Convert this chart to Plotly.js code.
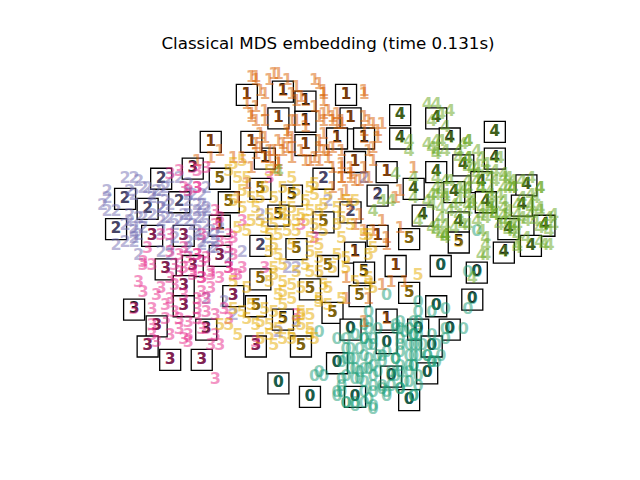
<!DOCTYPE html>
<html>
<head>
<meta charset="utf-8">
<script src="https://cdn.plot.ly/plotly-3.0.1.min.js"></script>
<style>
  body { margin: 0; background: #ffffff; }
  #embedding { width: 640px; height: 480px; }
</style>
</head>
<body>
<div id="embedding"></div>
<script>
// digits 0-5, positions in the embedding (scaled to [0, 1])
var x0 = [0.63,0.59,0.61,0.65,0.66,0.69,0.58,0.60,0.62,0.58,0.54,0.55,0.53,0.56,0.58,0.60,0.60,0.57,0.54,0.53,0.52,0.54,0.56,0.58,0.60,0.58,0.60,0.62,0.63,0.66,0.67,0.66,0.68,0.69,0.66,0.65,0.63,0.47,0.48,0.49,0.48,0.52,0.54,0.70,0.70,0.73,0.76,0.81,0.80,0.76,0.76,0.74,0.75,0.73,0.74,0.72,0.70,0.68,0.69,0.68,0.70,0.68,0.70,0.69,0.69,0.68,0.81,0.83,
  0.70,0.69,0.67,0.66,0.66,0.68,0.69,0.70,0.71,0.72,0.73,0.69,0.66,0.65,0.64,0.63,0.66,0.69,0.59,0.58,0.60,0.59,0.57,0.61,0.59,0.56,0.55,0.54,0.55,0.57,0.59,0.61,0.56,0.53,0.58,0.60,0.53,0.52,0.54,0.56,0.59,0.60,0.62,0.64,0.65,0.62,0.58,0.56,0.59,0.65,0.66,0.70,0.73];
var y0 = [0.34,0.29,0.24,0.24,0.24,0.22,0.21,0.19,0.16,0.16,0.18,0.15,0.14,0.12,0.12,0.13,0.10,0.09,0.10,0.07,0.05,0.02,0.01,0.02,0.00,0.05,0.05,0.07,0.05,0.06,0.08,0.11,0.13,0.16,0.17,0.15,0.17,0.10,0.11,0.10,0.23,0.21,0.21,0.32,0.29,0.29,0.30,0.30,0.24,0.24,0.21,0.19,0.16,0.14,0.14,0.16,0.19,0.19,0.13,0.11,0.10,0.08,0.07,0.04,0.26,0.24,0.41,0.53,
  0.26,0.22,0.23,0.21,0.19,0.16,0.19,0.16,0.19,0.16,0.14,0.13,0.13,0.10,0.07,0.04,0.06,0.04,0.24,0.21,0.21,0.19,0.18,0.16,0.15,0.15,0.18,0.15,0.12,0.11,0.12,0.11,0.09,0.09,0.08,0.07,0.05,0.04,0.02,0.02,0.03,0.01,0.06,0.11,0.15,0.14,0.25,0.22,0.26,0.25,0.26,0.22,0.22];

var x1 = [0.38,0.34,0.37,0.41,0.47,0.49,0.43,0.36,0.43,0.49,0.34,0.49,0.51,0.58,0.47,0.52,0.53,0.59,0.62,0.61,0.60,0.50,0.48,0.41,0.40,0.38,0.35,0.47,0.45,0.53,0.53,0.55,0.56,0.58,0.54,0.51,0.55,0.53,0.65,0.66,0.57,0.56,0.58,0.60,0.63,0.66,0.39,0.42,0.41,0.42,0.34,0.34,0.37,0.58,0.29,0.31,0.26,0.32,0.30,0.67,0.69,0.63,0.54,0.62,0.54,0.59,0.58,0.64,0.62,0.33,0.33,0.21,0.24,
  0.34,0.39,0.35,0.42,0.44,0.48,0.49,0.50,0.48,0.49,0.51,0.52,0.53,0.58,0.58,0.58,0.60,0.61,0.59,0.60,0.53,0.51,0.49,0.48,0.49,0.45,0.43,0.42,0.41,0.39,0.40,0.42,0.44,0.46,0.48,0.50,0.51,0.53,0.55,0.53,0.55,0.57,0.59,0.36,0.36,0.33,0.32,0.36,0.35,0.37,0.39,0.38,0.34,0.33,0.39];
var y1 = [1.00,0.98,0.98,0.98,0.98,0.95,0.96,0.94,0.92,0.92,0.90,0.88,0.87,0.94,0.90,0.85,0.86,0.86,0.85,0.83,0.78,0.77,0.78,0.82,0.79,0.77,0.82,0.75,0.74,0.72,0.69,0.70,0.68,0.69,0.65,0.66,0.61,0.64,0.63,0.65,0.58,0.55,0.53,0.53,0.51,0.54,0.73,0.78,0.83,0.86,0.86,0.79,0.75,0.72,0.75,0.75,0.77,0.67,0.63,0.38,0.72,0.49,0.39,0.37,0.33,0.33,0.26,0.38,0.56,0.88,0.99,0.74,0.75,
  0.99,1.00,0.95,0.94,0.93,0.97,0.94,0.89,0.87,0.86,0.86,0.88,0.85,0.95,0.87,0.83,0.85,0.81,0.77,0.74,0.77,0.78,0.77,0.80,0.82,0.84,0.86,0.81,0.78,0.80,0.77,0.75,0.77,0.74,0.74,0.75,0.72,0.73,0.72,0.69,0.69,0.68,0.69,0.81,0.86,0.87,0.91,0.89,0.78,0.77,0.74,0.72,0.76,0.72,0.71];

var x2 = [0.05,0.07,0.01,0.01,0.00,0.01,0.03,0.07,0.09,0.12,0.14,0.11,0.13,0.15,0.19,0.20,0.22,0.21,0.18,0.15,0.13,0.09,0.06,0.07,0.09,0.13,0.16,0.19,0.21,0.23,0.07,0.21,0.23,0.24,0.16,0.25,0.03,0.08,0.15,0.24,0.31,0.28,0.23,0.27,0.50,0.58,0.41,0.43,0.39,0.43,0.29,0.19,0.22,0.35,
  0.08,0.06,0.10,0.11,0.13,0.14,0.13,0.11,0.08,0.06,0.05,0.07,0.08,0.07,0.05,0.14,0.17,0.19,0.20,0.22,0.23,0.21,0.19,0.22,0.23,0.19,0.17,0.15,0.21,0.22,0.19,0.15,0.13,0.23,0.25,0.26,0.25];
var y2 = [0.69,0.69,0.65,0.63,0.61,0.59,0.59,0.64,0.66,0.65,0.66,0.63,0.60,0.61,0.62,0.64,0.61,0.59,0.58,0.57,0.56,0.57,0.56,0.53,0.54,0.53,0.55,0.56,0.57,0.59,0.51,0.53,0.55,0.53,0.51,0.50,0.49,0.46,0.46,0.48,0.47,0.45,0.33,0.32,0.62,0.69,0.42,0.42,0.23,0.26,0.28,0.48,0.49,0.58,
  0.68,0.65,0.66,0.64,0.65,0.62,0.60,0.58,0.57,0.58,0.55,0.54,0.52,0.50,0.50,0.57,0.56,0.58,0.55,0.57,0.60,0.61,0.64,0.64,0.66,0.67,0.69,0.69,0.52,0.50,0.50,0.49,0.47,0.51,0.52,0.54,0.48];

var x3 = [0.17,0.21,0.23,0.21,0.18,0.15,0.26,0.25,0.13,0.22,0.29,0.31,0.09,0.09,0.12,0.14,0.16,0.14,0.17,0.19,0.21,0.23,0.25,0.25,0.26,0.24,0.19,0.18,0.15,0.12,0.25,0.15,0.16,0.17,0.20,0.22,0.24,0.24,0.22,0.21,0.15,0.18,0.21,0.23,0.10,0.08,0.28,0.30,0.31,0.29,0.28,0.11,0.11,0.37,0.44,0.47,0.36,0.43,0.34,
  0.21,0.19,0.15,0.09,0.11,0.17,0.19,0.21,0.22,0.24,0.26,0.28,0.29,0.22,0.20,0.18,0.16,0.26,0.28,0.25,0.18,0.21,0.23,0.15,0.17,0.22,0.19,0.27,0.28,0.13,0.11];
var y3 = [0.71,0.71,0.72,0.66,0.66,0.70,0.57,0.55,0.52,0.52,0.51,0.56,0.43,0.35,0.34,0.31,0.29,0.27,0.24,0.26,0.27,0.29,0.28,0.22,0.19,0.19,0.20,0.21,0.22,0.20,0.09,0.39,0.37,0.41,0.41,0.39,0.40,0.36,0.35,0.33,0.47,0.48,0.46,0.45,0.48,0.38,0.42,0.40,0.42,0.46,0.48,0.25,0.22,0.69,0.55,0.51,0.42,0.28,0.20,
  0.66,0.65,0.52,0.44,0.43,0.46,0.45,0.46,0.44,0.41,0.39,0.42,0.40,0.39,0.40,0.42,0.43,0.50,0.52,0.59,0.34,0.30,0.33,0.33,0.27,0.24,0.22,0.30,0.27,0.36,0.30];

var x4 = [0.72,0.74,0.75,0.77,0.76,0.73,0.72,0.73,0.75,0.74,0.76,0.80,0.81,0.79,0.81,0.82,0.83,0.85,0.88,0.87,0.89,0.91,0.90,0.91,0.93,0.95,0.97,0.96,0.95,0.97,1.00,1.00,0.99,0.97,0.94,0.92,0.89,0.87,0.89,0.91,0.94,0.85,0.83,0.84,0.85,0.81,0.75,0.74,0.73,0.76,0.70,0.69,0.69,0.72,0.74,0.76,0.77,0.79,0.81,0.82,0.81,0.84,0.86,0.86,0.78,0.68,0.39,0.65,0.62,0.64,0.60,0.68,0.84,0.85,0.92,0.98,0.82,0.85,0.76,
  0.74,0.74,0.79,0.81,0.81,0.83,0.85,0.86,0.87,0.89,0.90,0.89,0.88,0.86,0.84,0.83,0.81,0.80,0.79,0.81,0.82,0.86,0.87,0.89,0.90,0.89,0.87,0.86,0.84,0.84,0.81,0.79,0.80,0.78,0.76,0.74,0.75,0.76,0.90,0.92,0.93,0.95,0.96,0.98,0.99,0.97,0.95,0.95,0.93,0.92,0.97,0.91,0.92,0.90,0.88,0.97,0.99,0.92,0.91,0.74,0.74,0.76,0.75,0.76,0.73,0.73,0.75,0.77,0.81,0.83,0.84];
var y4 = [0.91,0.91,0.88,0.89,0.84,0.86,0.79,0.78,0.80,0.77,0.77,0.79,0.80,0.75,0.75,0.72,0.70,0.73,0.75,0.71,0.70,0.68,0.66,0.66,0.68,0.69,0.66,0.63,0.60,0.59,0.58,0.55,0.53,0.54,0.56,0.58,0.60,0.58,0.56,0.55,0.51,0.57,0.56,0.53,0.51,0.55,0.57,0.53,0.54,0.52,0.56,0.69,0.63,0.62,0.64,0.63,0.68,0.66,0.64,0.61,0.68,0.66,0.64,0.60,0.61,0.77,0.71,0.70,0.62,0.62,0.59,0.80,0.46,0.46,0.48,0.49,0.39,0.49,0.51,
  0.80,0.76,0.77,0.75,0.72,0.72,0.71,0.69,0.68,0.69,0.69,0.66,0.64,0.65,0.66,0.68,0.66,0.65,0.62,0.61,0.62,0.61,0.61,0.62,0.59,0.58,0.58,0.59,0.60,0.58,0.59,0.58,0.55,0.54,0.55,0.55,0.52,0.52,0.56,0.55,0.57,0.58,0.56,0.55,0.57,0.60,0.61,0.64,0.63,0.61,0.66,0.66,0.52,0.53,0.55,0.50,0.49,0.49,0.53,0.69,0.66,0.68,0.65,0.64,0.64,0.61,0.60,0.59,0.80,0.77,0.75];

var x5 = [0.37,0.39,0.46,0.48,0.59,0.60,0.45,0.43,0.46,0.48,0.51,0.54,0.38,0.40,0.37,0.40,0.39,0.42,0.49,0.48,0.48,0.50,0.36,0.35,0.37,0.39,0.37,0.35,0.42,0.42,0.46,0.47,0.44,0.43,0.44,0.46,0.59,0.60,0.59,0.56,0.37,0.42,0.43,0.46,0.47,0.50,0.49,0.54,0.56,0.36,0.35,0.38,0.40,0.42,0.45,0.46,0.48,0.37,0.35,0.38,0.41,0.43,0.45,0.43,0.41,0.39,0.37,0.53,0.52,0.58,0.59,0.53,0.29,0.31,0.28,0.30,0.32,0.31,0.33,0.31,0.30,0.32,0.33,0.29,0.29,0.26,0.28,0.30,0.29,0.31,0.32,0.33,0.70,
  0.34,0.36,0.40,0.44,0.47,0.49,0.46,0.42,0.38,0.48,0.52,0.54,0.40,0.38,0.42,0.44,0.50,0.53,0.40,0.38,0.44,0.46,0.40,0.38,0.34,0.32,0.47,0.40,0.52,0.55];
var y5 = [0.47,0.46,0.47,0.45,0.46,0.48,0.43,0.41,0.41,0.41,0.42,0.42,0.40,0.38,0.38,0.35,0.34,0.33,0.37,0.33,0.32,0.31,0.30,0.26,0.25,0.24,0.22,0.21,0.22,0.21,0.22,0.21,0.28,0.26,0.29,0.28,0.37,0.36,0.39,0.38,0.71,0.69,0.65,0.66,0.64,0.64,0.61,0.62,0.62,0.66,0.63,0.63,0.60,0.60,0.62,0.59,0.59,0.58,0.56,0.55,0.56,0.56,0.56,0.53,0.53,0.52,0.52,0.57,0.55,0.52,0.52,0.51,0.73,0.74,0.71,0.69,0.69,0.65,0.63,0.60,0.54,0.53,0.56,0.62,0.38,0.25,0.25,0.22,0.30,0.29,0.27,0.31,0.40,
  0.60,0.54,0.58,0.58,0.55,0.53,0.51,0.49,0.49,0.49,0.46,0.45,0.43,0.42,0.37,0.36,0.36,0.33,0.31,0.29,0.25,0.24,0.21,0.19,0.25,0.36,0.67,0.66,0.60,0.55];

// samples shown as thumbnails (they are points of the embedding too)
var boxX = [0.32,0.40,0.45,0.54,0.39,0.45,0.66,0.55,0.66,0.45,0.52,0.58,0.36,0.56,0.63,0.49,0.61,0.69,0.42,0.55,0.35,0.39,0.49,0.61,0.68,0.24,0.33,0.20,0.13,0.26,0.05,0.10,0.17,0.28,0.03,0.26,0.11,0.18,0.74,0.77,0.87,0.87,0.80,0.74,0.84,0.94,0.78,0.85,0.93,0.71,0.79,0.98,0.90,0.79,0.95,0.89,0.75,0.83,0.68,0.82,0.74,0.70,0.77,0.73,0.72,0.68,0.14,0.20,0.26,0.18,0.29,0.18,0.07,0.12,0.23,0.10,0.15,0.22,0.34,0.43,0.56,0.50,0.58,0.65,0.35,0.46,0.57,0.34,0.51,0.40,0.63,0.55,0.44,0.63,0.52,0.64,0.39,0.46,0.56,0.35];
var boxY = [0.94,0.95,0.92,0.94,0.87,0.86,0.88,0.87,0.81,0.79,0.81,0.81,0.75,0.74,0.71,0.69,0.64,0.66,0.64,0.59,0.66,0.58,0.56,0.52,0.51,0.80,0.80,0.72,0.69,0.69,0.63,0.60,0.62,0.62,0.54,0.55,0.52,0.52,0.87,0.81,0.83,0.75,0.73,0.71,0.68,0.67,0.65,0.62,0.61,0.58,0.56,0.55,0.54,0.50,0.49,0.47,0.43,0.41,0.35,0.33,0.31,0.24,0.24,0.19,0.11,0.03,0.42,0.43,0.46,0.37,0.34,0.31,0.30,0.25,0.24,0.19,0.15,0.15,0.19,0.48,0.47,0.43,0.41,0.43,0.39,0.36,0.34,0.31,0.29,0.27,0.27,0.24,0.19,0.20,0.14,0.10,0.08,0.04,0.04,0.49];
var boxLabel = ['1','1','1','1','1','1','4','1','4','1','1','1','1','1','1','2','2','4','5','2','5','5','5','1','5','1','1','3','2','5','2','2','2','5','2','1','3','3','4','4','4','4','4','4','4','4','4','4','4','4','4','4','4','5','4','4','0','0','5','0','0','0','0','0','0','0','3','3','3','3','3','3','3','3','3','3','3','3','3','5','1','5','5','1','5','5','5','5','5','5','1','0','5','0','0','0','0','0','0','2'];

var digitX = [x0, x1, x2, x3, x4, x5];
var digitY = [y0, y1, y2, y3, y4, y5];

// Dark2 colours, semi transparent
var dark2 = ['27,158,119', '217,95,2', '117,112,179', '231,41,138', '102,166,30', '230,171,2'];

var data = [];

// thumbnails go under the scatter
data.push({
  x: boxX,
  y: boxY,
  text: boxLabel,
  type: 'scatter',
  mode: 'markers+text',
  marker: { symbol: 'square', size: 21, color: '#ffffff', line: { color: '#000000', width: 1.3 } },
  textposition: 'middle center',
  textfont: { family: 'DejaVu Sans', size: 15, color: 'rgba(10,10,10,0.95)', weight: 'bold' },
  hoverinfo: 'skip',
  cliponaxis: false
});

for (var d = 0; d < 6; d++) {
  var xs = digitX[d].slice();
  var ys = digitY[d].slice();
  for (var i = 0; i < boxLabel.length; i++) {
    if (boxLabel[i] === String(d)) {
      xs.push(boxX[i]);
      ys.push(boxY[i]);
    }
  }
  data.push({
    x: xs,
    y: ys,
    text: xs.map(function () { return String(d); }),
    type: 'scatter',
    mode: 'text',
    textposition: 'middle center',
    textfont: { family: 'DejaVu Sans', size: 16, color: 'rgba(' + dark2[d] + ',0.5)', weight: 'bold' },
    name: String(d),
    hoverinfo: 'skip',
    cliponaxis: false
  });
}

var layout = {
  width: 640,
  height: 480,
  margin: { l: 80, r: 64, t: 57.6, b: 52.8, pad: 0 },
  paper_bgcolor: '#ffffff',
  plot_bgcolor: '#ffffff',
  showlegend: false,
  title: {
    text: 'Classical MDS embedding (time 0.131s)',
    font: { family: 'DejaVu Sans', size: 16.7, color: '#000000' },
    x: 0.5,
    xref: 'paper',
    xanchor: 'center',
    y: 0.91,
    yref: 'container',
    yanchor: 'middle'
  },
  xaxis: { range: [-0.05, 1.05], visible: false, showgrid: false, zeroline: false },
  yaxis: { range: [-0.05, 1.05], visible: false, showgrid: false, zeroline: false }
};

Plotly.newPlot('embedding', data, layout, { displayModeBar: false, staticPlot: true });
</script>
</body>
</html>
